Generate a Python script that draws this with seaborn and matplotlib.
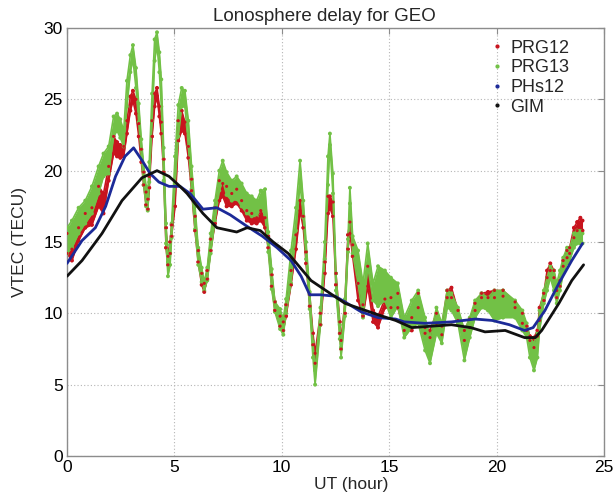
import numpy as np
import pandas as pd
import matplotlib
matplotlib.use("Agg")
import matplotlib.pyplot as plt
import seaborn as sns
from matplotlib.lines import Line2D

# ---------------- data ----------------
hours_dots = [0.0, 0.23, 0.54, 0.85, 1.16, 1.47, 1.7, 1.94, 2.17, 2.33,
              2.48, 2.64, 2.79, 2.95, 3.07, 3.21, 3.34, 3.46, 3.57, 3.68,
              3.76, 3.83, 3.96, 4.08, 4.19, 4.3, 4.39, 4.5, 4.61, 4.7,
              4.8, 4.87, 5.03, 5.18, 5.34, 5.49, 5.65, 5.8, 5.96, 6.11,
              6.27, 6.39, 6.53, 6.69, 6.89, 7.09, 7.25, 7.43, 7.67, 7.9,
              8.13, 8.37, 8.6, 8.83, 9.02, 9.22, 9.37, 9.53, 9.68, 9.92,
              10.07, 10.2, 10.43, 10.66, 10.85, 11.0, 11.13, 11.3, 11.45, 11.55,
              11.8, 12.0, 12.15, 12.24, 12.38, 12.52, 12.7, 12.76, 12.94, 13.08,
              13.17, 13.3, 13.55, 13.78, 14.0, 14.25, 14.48, 14.8, 15.08, 15.4,
              15.7, 16.05, 16.35, 16.67, 16.9, 17.2, 17.45, 17.7, 17.9, 18.2,
              18.5, 18.75, 19.0, 19.3, 19.6, 19.9, 20.3, 20.86, 21.2, 21.4,
              21.55, 21.74, 21.9, 22.0, 22.2, 22.35, 22.5, 22.67, 22.8, 22.95,
              23.1, 23.28, 23.4, 23.6, 23.75, 23.9, 24.0]

# PRG13 (green dots): lower / upper edge of the dotted band
prg13_lo = [14.2, 14.6, 15.6, 16.3, 17.0, 18.4, 19.6, 19.8, 22.4, 22.8,
            22.3, 21.7, 24.5, 26.9, 27.8, 25.8, 23.4, 21.0, 19.0, 17.5,
            17.2, 19.2, 23.5, 27.7, 28.8, 26.9, 24.5, 19.3, 14.9, 12.6,
            13.4, 15.3, 19.0, 22.4, 24.5, 24.5, 21.7, 18.7, 15.9, 13.4,
            12.2, 11.6, 12.3, 14.2, 16.5, 18.6, 19.3, 18.3, 17.9, 18.0,
            17.5, 17.0, 16.8, 16.8, 17.4, 16.9, 14.3, 11.7, 10.1, 8.9,
            8.5, 10.0, 12.1, 15.8, 19.1, 16.7, 13.8, 10.3, 6.9, 5.0,
            9.2, 13.8, 19.0, 21.8, 18.4, 11.6, 8.2, 6.9, 9.8, 14.3,
            17.7, 14.2, 12.1, 9.7, 13.3, 10.9, 10.5, 10.9, 9.7, 10.5,
            8.3, 9.0, 9.3, 7.4, 6.5, 8.6, 7.9, 10.4, 10.2, 9.3,
            6.7, 8.3, 9.7, 10.4, 10.2, 9.5, 9.7, 9.7, 8.8, 8.3,
            6.9, 6.0, 6.9, 8.8, 10.7, 11.6, 12.5, 11.6, 10.7, 11.6,
            12.8, 13.5, 13.7, 14.6, 14.9, 14.9, 14.9]
prg13_hi = [16.0, 16.5, 17.4, 17.9, 18.9, 20.3, 21.2, 21.7, 23.8, 24.0,
            23.6, 22.8, 26.3, 28.1, 28.8, 27.2, 24.7, 22.2, 20.4, 18.9,
            18.2, 20.6, 25.4, 29.2, 29.7, 28.3, 26.4, 21.6, 16.3, 13.6,
            14.8, 16.3, 21.0, 24.6, 25.8, 25.6, 23.5, 20.3, 17.5, 14.6,
            13.2, 12.2, 13.2, 15.6, 17.9, 20.0, 20.7, 19.9, 19.3, 19.6,
            19.1, 18.4, 18.2, 17.9, 18.6, 18.7, 15.7, 13.1, 10.8, 10.3,
            9.6, 11.0, 14.4, 17.4, 20.7, 17.9, 15.0, 11.5, 8.0, 6.0,
            10.4, 15.0, 21.0, 22.6, 19.8, 12.8, 9.2, 7.6, 11.0, 15.2,
            18.8, 15.4, 14.4, 12.1, 14.9, 12.1, 13.3, 13.0, 12.5, 12.1,
            9.7, 10.9, 11.6, 9.7, 8.3, 10.4, 9.3, 11.6, 11.4, 10.4,
            8.8, 9.7, 10.9, 11.4, 11.1, 11.6, 11.6, 10.9, 10.2, 9.3,
            8.3, 7.9, 8.6, 10.2, 11.6, 12.5, 13.3, 13.0, 12.1, 13.0,
            13.9, 14.6, 14.6, 15.6, 15.8, 15.8, 15.6]

# PRG12 (red dots): lower / upper edge of the dotted band
prg12_lo = [14.2, 13.7, 15.1, 16.0, 16.2, 17.5, 17.0, 19.3, 21.2, 21.0,
            20.9, 21.0, 22.6, 24.2, 24.9, 24.0, 22.4, 20.6, 19.0, 17.6,
            17.3, 18.8, 22.4, 24.5, 25.2, 23.8, 22.6, 19.9, 14.6, 13.4,
            14.2, 15.4, 17.5, 22.1, 22.8, 22.6, 20.9, 18.6, 15.8, 13.6,
            12.0, 11.5, 12.4, 14.4, 16.3, 17.9, 18.2, 17.5, 17.5, 17.7,
            17.2, 16.5, 16.3, 16.3, 16.5, 16.0, 14.6, 11.9, 10.2, 9.1,
            8.8, 9.8, 12.0, 14.5, 17.2, 16.0, 13.5, 10.5, 7.8, 6.5,
            9.2, 12.8, 17.0, 17.4, 16.8, 12.0, 8.6, 7.5, 10.0, 14.5,
            15.6, 14.0, 10.9, 9.8, 11.9, 9.4, 9.0, 10.4, 10.4, 10.4,
            8.8, 8.8, 10.4, 8.6, 8.3, 9.3, 8.5, 11.1, 11.1, 9.5,
            8.1, 9.0, 10.2, 11.1, 11.1, 11.1, 11.2, 10.4, 9.3, 8.8,
            8.1, 7.6, 8.4, 9.5, 10.9, 12.5, 13.0, 12.5, 11.1, 11.9,
            13.3, 13.9, 14.2, 15.3, 15.8, 16.0, 15.8]
prg12_hi = [15.6, 14.5, 16.0, 17.0, 17.4, 18.9, 18.4, 20.3, 22.4, 22.0,
            21.8, 21.7, 23.5, 25.2, 25.6, 25.0, 23.3, 21.5, 19.9, 18.5,
            18.0, 19.6, 23.5, 25.4, 25.8, 24.5, 23.4, 20.8, 16.0, 14.0,
            15.0, 16.2, 18.9, 23.5, 24.2, 23.4, 21.7, 19.4, 16.8, 14.4,
            12.8, 12.1, 13.0, 15.2, 17.4, 19.3, 19.1, 18.9, 18.4, 18.7,
            17.9, 17.2, 17.0, 16.7, 17.2, 16.7, 15.4, 12.7, 10.8, 9.8,
            9.4, 10.6, 13.0, 15.5, 17.9, 16.8, 14.3, 11.3, 8.6, 7.2,
            10.0, 13.6, 18.2, 18.2, 17.8, 12.8, 9.4, 8.1, 10.8, 15.5,
            16.4, 14.8, 12.1, 10.6, 13.3, 10.2, 9.8, 11.0, 11.1, 11.4,
            9.3, 9.7, 11.4, 9.0, 8.8, 10.0, 9.1, 11.6, 11.8, 10.2,
            8.8, 9.6, 10.7, 11.4, 11.5, 11.6, 11.6, 10.8, 10.0, 9.1,
            8.4, 8.3, 8.8, 10.4, 11.4, 13.0, 13.5, 13.0, 11.6, 12.3,
            13.7, 14.4, 14.6, 16.0, 16.4, 16.7, 16.5]

# PHs12 (blue line)
hours_phs12 = [0.0, 0.7, 1.32, 1.8, 2.26, 2.7, 3.1, 3.5, 3.87, 4.28,
               4.75, 5.26, 5.73, 6.33, 6.98, 7.6, 8.38, 9.1, 9.78, 10.43,
               10.9, 11.3, 11.8, 12.48, 12.94, 13.7, 14.48, 15.3, 15.7, 16.67,
               17.9, 19.0, 19.8, 20.6, 21.3, 21.7, 22.25, 22.9, 23.5, 24.0]
phs12 = [13.5, 15.1, 16.0, 17.5, 19.6, 21.0, 21.6, 20.7, 19.8, 19.2,
         18.9, 18.9, 18.4, 17.3, 17.4, 16.9, 16.1, 15.4, 14.6, 13.7,
         12.6, 11.3, 11.3, 11.2, 10.8, 10.1, 9.7, 9.6, 9.4, 9.3,
         9.4, 9.6, 9.5, 9.2, 8.8, 9.0, 10.2, 12.1, 13.7, 14.9]

# GIM (black line)
hours_gim = [0.0, 0.7, 1.63, 2.56, 3.49, 4.19, 4.75, 5.26, 5.59, 6.33,
             6.98, 7.9, 8.38, 9.0, 9.6, 10.3, 11.36, 12.94, 14.48, 15.3,
             16.05, 17.9, 18.8, 19.46, 20.4, 21.3, 21.8, 22.1, 22.9, 23.5, 24.05]
gim = [12.6, 13.7, 15.6, 17.9, 19.5, 20.0, 19.6, 18.9, 18.4, 17.0,
       16.0, 15.7, 16.0, 15.8, 15.0, 14.2, 12.3, 10.7, 9.9, 9.5,
       9.0, 9.2, 9.0, 8.7, 8.8, 8.3, 8.3, 8.8, 10.7, 12.3, 13.4]

series_names = ["PRG12", "PRG13", "PHs12", "GIM"]
series_colors = ["#c8141e", "#72c146", "#1c2a98", "#111111"]
x_ticks = [0, 5, 10, 15, 20, 25]
y_ticks = [0, 5, 10, 15, 20, 25, 30]

# ---------------- drawing ----------------
sns.set_theme(style="white")
plt.rcParams['font.family'] = ['Liberation Sans', 'DejaVu Sans']

fig = plt.figure(figsize=(6.16, 4.97), dpi=100)
ax = fig.add_axes([67 / 616, 41 / 497, 537 / 616, 428 / 497])


def dotted_band(lo, hi, color, z, lw, s):
    ax.fill_between(hours_dots, lo, hi, color=color, lw=0, zorder=z)
    for edge in (lo, hi):
        sns.lineplot(x=hours_dots, y=edge, color=color, lw=lw, ax=ax,
                     zorder=z, estimator=None, sort=False)
        sns.scatterplot(x=hours_dots, y=edge, color=color, s=s,
                        edgecolor="none", ax=ax, zorder=z)


# red band underneath, green band over it, red speckles on top
dotted_band(prg12_lo, prg12_hi, series_colors[0], 2, 1.2, 8)
dotted_band(prg13_lo, prg13_hi, series_colors[1], 3, 1.2, 8)
for edge in (prg12_lo, prg12_hi):
    sns.scatterplot(x=hours_dots, y=edge, color=series_colors[0], s=5,
                    edgecolor="none", ax=ax, zorder=3.5)

sns.lineplot(x=hours_phs12, y=phs12, color=series_colors[2], lw=2.0,
             ax=ax, zorder=4, estimator=None, sort=False)
sns.lineplot(x=hours_gim, y=gim, color=series_colors[3], lw=2.0,
             ax=ax, zorder=5, estimator=None, sort=False)

ax.set_xlim(0, 25)
ax.set_ylim(0, 30)
ax.set_xticks(x_ticks)
ax.set_yticks(y_ticks)
ax.grid(True, linestyle=(0, (1, 2)), color="#b5b5b5", linewidth=0.8)
ax.set_axisbelow(True)
for sp in ax.spines.values():
    sp.set_color("#8c8c8c")
    sp.set_linewidth(1.0)
ax.tick_params(direction="in", length=4, width=0.8, top=True, right=True,
               color="#8c8c8c", labelcolor="black", labelsize=12.5, pad=3)

ax.set_title("Lonosphere delay for GEO", fontsize=13.5, pad=5, x=0.48)
ax.set_xlabel("UT (hour)", fontsize=12.5)
ax.xaxis.set_label_coords(0.53, -0.048, transform=ax.transAxes)
ax.xaxis.label.set_verticalalignment("top")
ax.set_ylabel("VTEC (TECU)", fontsize=12.5, labelpad=12)

handles = [Line2D([], [], marker=".", linestyle="none", color=c, markersize=4)
           for c in series_colors]
ax.legend(handles, series_names, loc="upper left",
          bbox_to_anchor=(0.778, 0.99), frameon=False, fontsize=13,
          handlelength=0.6, handletextpad=0.4, labelspacing=0.15,
          borderaxespad=0.0)

fig.savefig("out.png", dpi=100, facecolor="white")
